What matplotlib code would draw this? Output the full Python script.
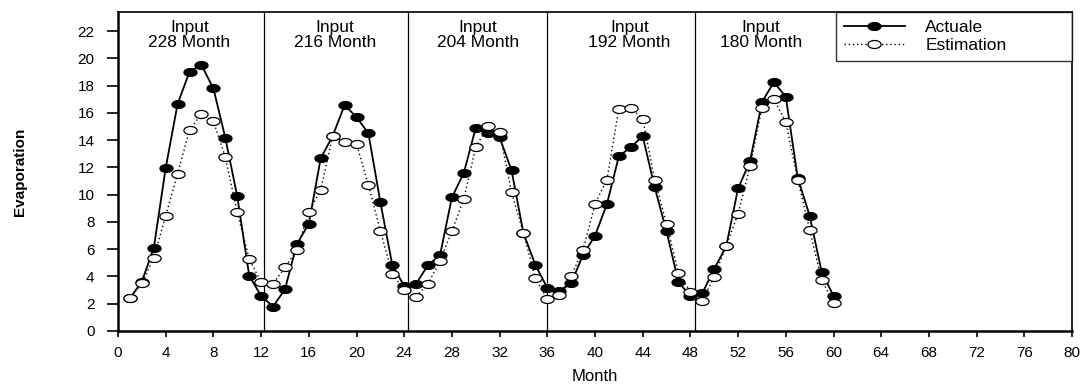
import matplotlib
matplotlib.use("Agg")
import matplotlib.pyplot as plt
from matplotlib.path import Path
import numpy as np

plt.rcParams['font.family'] = ['Liberation Sans', 'DejaVu Sans']

months = list(range(1, 61))
actual = [2.4, 3.63, 6.08, 11.96, 16.67, 19.02, 19.5, 17.8, 14.17, 9.88, 4.07, 2.57,
          1.79, 3.06, 6.37, 7.87, 12.67, 14.3, 16.57, 15.69, 14.49, 9.46, 4.85, 3.3,
          3.46, 4.85, 5.54, 9.8, 11.6, 14.9, 14.49, 14.2, 11.79, 7.18, 4.85, 3.15,
          2.9, 3.5, 5.59, 6.99, 9.31, 12.82, 13.48, 14.29, 10.56, 7.3, 3.58, 2.57,
          2.77, 4.56, 6.2, 10.46, 12.45, 16.79, 18.26, 17.18, 11.23, 8.46, 4.36, 2.57]
estimation = [2.4, 3.5, 5.35, 8.46, 11.54, 14.73, 15.93, 15.39, 12.74, 8.7, 5.29, 3.58,
              3.46, 4.66, 5.96, 8.7, 10.37, 14.29, 13.87, 13.73, 10.69, 7.35, 4.19, 3.01,
              2.52, 3.46, 5.15, 7.31, 9.7, 13.48, 15.02, 14.58, 10.17, 7.18, 3.87, 2.33,
              2.65, 4.04, 5.96, 9.31, 11.1, 16.3, 16.37, 15.56, 11.1, 7.87, 4.24, 2.89,
              2.21, 3.99, 6.25, 8.6, 12.08, 16.37, 16.99, 15.32, 11.1, 7.43, 3.75, 2.08]
separators = [12.25, 24.35, 35.95, 48.35]
input_labels = ["Input\n228 Month", "Input\n216 Month", "Input\n204 Month",
                "Input\n192 Month", "Input\n180 Month"]
input_label_x = [6.0, 18.2, 30.2, 42.9, 53.9]
xticks = list(range(0, 81, 4))
yticks = list(range(0, 23, 2))

# elliptical marker (the reference is horizontally stretched)
t = np.linspace(0, 2 * np.pi, 60)
ell = Path(np.column_stack([1.65 * np.cos(t), np.sin(t)]), closed=True)

fig = plt.figure(figsize=(10.86, 3.84), dpi=100)
ax = fig.add_axes([118 / 1086, 1 - 331 / 384, (1072 - 118) / 1086, (331 - 12) / 384])

ax.plot(months, actual, color='black', lw=1.3, marker=ell, ms=9.5,
        mfc='black', mec='black', mew=0.8, label='Actuale', zorder=3)
ax.plot(months, estimation, color='black', lw=1.0, ls=(0, (1, 2)), marker=ell, ms=9.5,
        mfc='white', mec='black', mew=0.9, label='Estimation', zorder=4)

for s in separators:
    ax.axvline(s, color='black', lw=0.9, zorder=1)

for lab, xpos in zip(input_labels, input_label_x):
    ax.text(xpos, 21.7, lab, ha='center', va='center', fontsize=12.5,
            linespacing=0.95, zorder=5)

ax.set_xlim(0, 80)
ax.set_ylim(0, 23.4)
ax.set_xticks(xticks)
ax.set_yticks(yticks)
ax.tick_params(axis='x', direction='out', length=4, width=1.2, labelsize=11, pad=7)
ax.tick_params(axis='y', direction='out', length=8, width=1.2, labelsize=11, pad=9)
for side in ['left', 'bottom']:
    ax.spines[side].set_linewidth(1.8)
for side in ['top', 'right']:
    ax.spines[side].set_linewidth(1.2)

ax.set_xlabel('Month', fontsize=12, labelpad=6)
ax.set_ylabel('Evaporation', fontsize=11, fontweight='bold', labelpad=36)

leg = ax.legend(loc='upper left', bbox_to_anchor=(0.7526, 0, 0.2474, 1.0), mode='expand',
                borderaxespad=0, fontsize=12.5, frameon=True, fancybox=False,
                handlelength=3.5, handletextpad=1.2, borderpad=0.45, labelspacing=0.15)
leg.get_frame().set_edgecolor('black')
leg.get_frame().set_linewidth(1.0)
leg.set_zorder(6)

fig.savefig('out.png', dpi=100)
